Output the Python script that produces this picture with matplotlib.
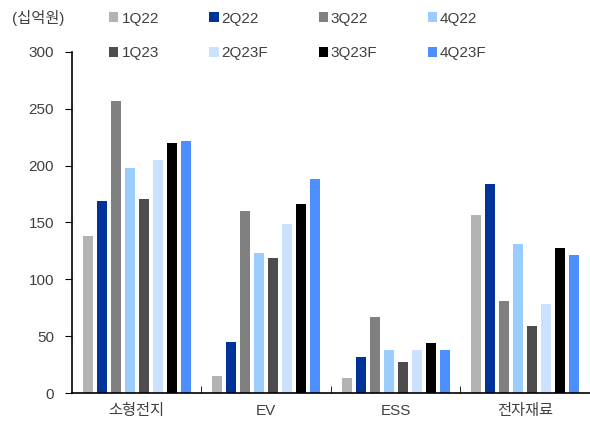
import numpy as np
import matplotlib.pyplot as plt
from matplotlib.patches import Patch

plt.rcParams['font.family'] = ['Liberation Sans', 'Noto Sans CJK KR']

categories = ["소형전지", "EV", "ESS", "전자재료"]
quarters = ["1Q22", "2Q22", "3Q22", "4Q22", "1Q23", "2Q23F", "3Q23F", "4Q23F"]
colors = ["#b3b3b3", "#003399", "#808080", "#99ccff", "#4d4d4d", "#cce0ff", "#000000", "#4d8fff"]

v_1q22 = [138, 15, 13, 157]
v_2q22 = [169, 45, 32, 184]
v_3q22 = [257, 160, 67, 81]
v_4q22 = [198, 123, 38, 131]
v_1q23 = [171, 119, 27, 59]
v_2q23 = [205, 149, 38, 78]
v_3q23 = [220, 166, 44, 128]
v_4q23 = [222, 188, 38, 121]
series = [v_1q22, v_2q22, v_3q22, v_4q22, v_1q23, v_2q23, v_3q23, v_4q23]

fig = plt.figure(figsize=(5.9, 4.32), dpi=100)
ax = fig.add_axes([0.122, 0.09, 0.878, 0.79])

x = np.arange(len(categories))
step = 0.108
w = 0.08
for i, vals in enumerate(series):
    ax.bar(x + (i - 3.5) * step, vals, width=w, color=colors[i], label=quarters[i])

ax.set_xlim(-0.5, 3.5)
ax.set_ylim(0, 300)
ax.set_yticks(range(0, 301, 50))
ax.set_xticks(x)
ax.set_xticklabels(categories)
ax.tick_params(axis='x', length=0, pad=8, labelsize=11, colors='#404040')
ax.set_xticks([0.5, 1.5, 2.5], minor=True)
ax.tick_params(axis='x', which='minor', direction='in', length=5, color='black')
ax.tick_params(axis='y', direction='out', length=5, labelsize=11, colors='#404040', pad=8)
ax.tick_params(axis='y', color='black')
for s in ['top', 'right']:
    ax.spines[s].set_visible(False)
ax.spines['left'].set_linewidth(1.2)
ax.spines['bottom'].set_linewidth(1.2)

fig.text(0.02, 0.958, "(십억원)", fontsize=11, color='#404040', va='center')

order = [0, 4, 1, 5, 2, 6, 3, 7]
handles = [Patch(facecolor=colors[i], label=quarters[i]) for i in order]
fig.legend(handles=handles, ncol=4, loc='upper left', bbox_to_anchor=(0.162, 1.005),
           frameon=False, fontsize=11, handlelength=0.6, handleheight=0.6,
           handletextpad=0.2, columnspacing=3.3, labelspacing=1.35,
           labelcolor='#404040')

fig.savefig("out.png", dpi=100)
